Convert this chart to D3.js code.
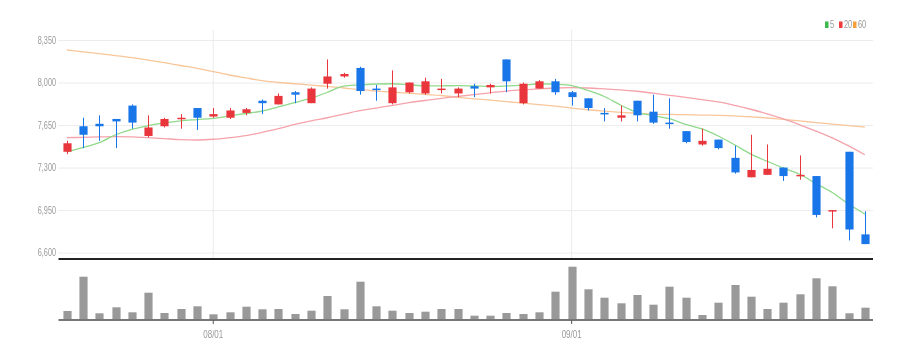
<!DOCTYPE html>
<html><head><meta charset="utf-8">
<script src="https://cdn.jsdelivr.net/npm/d3@7/dist/d3.min.js"></script>
<style>
body{margin:0;background:#fff;}
svg{display:block;font-family:"Liberation Sans",Arial,sans-serif;}
</style></head>
<body><svg id="c" width="910" height="360"></svg>
<script>
const dates = ["2022-07-19","2022-07-20","2022-07-21","2022-07-22","2022-07-25","2022-07-26","2022-07-27","2022-07-28","2022-07-29",
"2022-08-01","2022-08-02","2022-08-03","2022-08-04","2022-08-05","2022-08-08","2022-08-09","2022-08-10","2022-08-11","2022-08-12",
"2022-08-16","2022-08-17","2022-08-18","2022-08-19","2022-08-22","2022-08-23","2022-08-24","2022-08-25","2022-08-26","2022-08-29","2022-08-30","2022-08-31",
"2022-09-01","2022-09-02","2022-09-05","2022-09-06","2022-09-07","2022-09-08","2022-09-13","2022-09-14","2022-09-15","2022-09-16",
"2022-09-19","2022-09-20","2022-09-21","2022-09-22","2022-09-23","2022-09-26","2022-09-27","2022-09-28","2022-09-29"];
const open  = [7430,7640,7660,7700,7810,7560,7640,7700,7790,7720,7710,7750,7850,7820,7920,7830,7990,8050,8120,7950,7830,7920,7910,7940,7910,7970,7960,8190,7830,7950,8010,7920,7870,7750,7710,7850,7760,7670,7600,7490,7530,7380,7220,7240,7300,7230,7230,6940,7430,6750];
const high  = [7520,7710,7730,7700,7820,7730,7710,7740,7790,7790,7790,7790,7860,7910,7930,7960,8190,8080,8130,7980,8100,8000,8040,8030,7960,7990,7990,8190,8000,8020,8030,7930,7870,7790,7810,7850,7900,7870,7600,7620,7530,7480,7570,7490,7300,7400,7230,6950,7430,6940];
const low   = [7410,7460,7520,7460,7620,7550,7630,7620,7610,7710,7700,7730,7740,7820,7830,7830,7950,8040,7900,7850,7820,7910,7900,7910,7880,7880,7910,7920,7820,7950,7900,7810,7770,7680,7680,7680,7660,7620,7500,7480,7450,7250,7220,7240,7190,7200,6890,6800,6700,6670];
const close = [7500,7570,7640,7680,7670,7630,7700,7710,7710,7740,7770,7780,7830,7890,7900,7950,8050,8070,7930,7940,7960,8000,8010,7950,7950,7950,7980,8010,7990,8010,7920,7880,7790,7740,7730,7730,7670,7660,7510,7520,7460,7260,7280,7290,7230,7240,6910,6950,6790,6670];
const volume = [90000,433000,67000,127000,77000,273000,70000,110000,137000,57000,77000,133000,107000,110000,60000,93000,240000,107000,383000,137000,93000,70000,83000,110000,110000,43000,43000,70000,60000,77000,283000,533000,307000,223000,167000,250000,153000,333000,223000,50000,173000,350000,233000,110000,173000,257000,417000,337000,67000,123000];
const ma5  = [7430,7465,7505,7570,7615,7645,7668,7685,7695,7705,7725,7745,7765,7800,7834,7871,7918,7970,7980,7988,7990,7982,7972,7973,7974,7972,7968,7972,7978,7990,7986,7975,7935,7885,7815,7755,7728,7702,7655,7618,7560,7488,7410,7352,7296,7245,7168,7095,7000,6918];
const ma20 = [7546,7549,7552,7555,7553,7546,7538,7530,7527,7533,7546,7562,7590,7620,7655,7685,7710,7740,7768,7790,7812,7835,7852,7870,7885,7900,7915,7930,7940,7948,7955,7958,7955,7948,7940,7928,7912,7895,7878,7860,7840,7812,7780,7742,7700,7652,7600,7545,7478,7405];
const ma60 = [8268,8253,8238,8222,8205,8185,8163,8140,8117,8090,8062,8038,8015,8000,7990,7978,7968,7955,7942,7930,7922,7912,7902,7893,7878,7866,7855,7843,7830,7818,7805,7790,7776,7765,7755,7747,7740,7737,7735,7732,7730,7726,7718,7708,7696,7684,7670,7658,7645,7632];
const priceTicks = [6600,6950,7300,7650,8000,8350];
const tickDates = ["2022-08-01","2022-09-01"];
const tickLabels = ["08/01","09/01"];
const legendNames = ["5","20","60"];

const svg = d3.select("#c");
const L = 58.5, R = 873;
const x = d3.scaleBand().domain(dates).range([L, R]).paddingInner(0.5).paddingOuter(0.25);
const y = d3.scaleLinear().domain([6600, 8350]).range([252.6, 40]);
const yv = d3.scaleLinear().domain([0, 540000]).range([320, 266]);
const cx = d => x(d) + x.bandwidth() / 2;

const RED = "#e8363c", BLUE = "#1976e8", TXT = "#999";
const SY = 0.73, SX = 0.8, SL = 0.74;

// grayscale filter to neutralise coloured text fringes
const flt = svg.append("defs").append("filter").attr("id", "gray")
  .attr("x", "-20%").attr("y", "-40%").attr("width", "140%").attr("height", "180%");
flt.append("feColorMatrix").attr("type", "saturate").attr("values", 0);

// horizontal grid + y labels
const ya = svg.append("g").attr("transform", `translate(${L},0)`)
  .call(d3.axisLeft(y).tickValues(priceTicks).tickSize(-(R - L)).tickPadding(2.5).tickFormat(d3.format(",")));
ya.select(".domain").remove();
ya.selectAll(".tick line").attr("stroke", "#ececec");
ya.selectAll(".tick text").attr("fill", TXT).attr("font-size", 10)
  .attr("x", -2.5 / SY).attr("transform", `scale(${SY},1)`).attr("filter", "url(#gray)");

// vertical grid at month starts
svg.append("g").selectAll("line").data(tickDates).join("line")
  .attr("x1", d => cx(d)).attr("x2", d => cx(d)).attr("y1", 30).attr("y2", 259)
  .attr("stroke", "#ececec");

// MA lines
const lineOf = arr => d3.line().x((d, i) => cx(dates[i])).y(d => y(d)).curve(d3.curveMonotoneX)(arr);
svg.append("path").attr("d", lineOf(ma60)).attr("fill", "none").attr("stroke", "#f9c69a").attr("stroke-width", 1.3);
svg.append("path").attr("d", lineOf(ma20)).attr("fill", "none").attr("stroke", "#f5a3ab").attr("stroke-width", 1.3);
svg.append("path").attr("d", lineOf(ma5)).attr("fill", "none").attr("stroke", "#8fd98a").attr("stroke-width", 1.3);

// candles
const cg = svg.append("g").selectAll("g").data(dates).join("g");
const col = (d, i) => close[i] >= open[i] ? RED : BLUE;
cg.append("line")
  .attr("x1", d => Math.round(cx(d)) + 0.5).attr("x2", d => Math.round(cx(d)) + 0.5)
  .attr("y1", (d, i) => y(high[i])).attr("y2", (d, i) => y(low[i]))
  .attr("stroke", col).attr("stroke-width", 1);
cg.append("rect")
  .attr("x", d => Math.round(cx(d)) + 0.5 - x.bandwidth() / 2)
  .attr("width", x.bandwidth())
  .attr("y", (d, i) => y(Math.max(open[i], close[i])))
  .attr("height", (d, i) => Math.max(1.5, Math.abs(y(open[i]) - y(close[i]))))
  .attr("fill", col);

// separator line
svg.append("line").attr("x1", L).attr("x2", R).attr("y1", 259).attr("y2", 259)
  .attr("stroke", "#222").attr("stroke-width", 2);

// volume bars
svg.append("g").selectAll("rect").data(dates).join("rect")
  .attr("x", d => Math.round(cx(d)) + 0.5 - x.bandwidth() / 2)
  .attr("width", x.bandwidth())
  .attr("y", (d, i) => yv(volume[i]))
  .attr("height", (d, i) => 320 - yv(volume[i]))
  .attr("fill", "#999");

// x axis
const xa = svg.append("g").attr("transform", "translate(0,320)")
  .call(d3.axisBottom(x).tickValues(tickDates).tickSize(4).tickPadding(7)
    .tickFormat(d => tickLabels[tickDates.indexOf(d)]));
xa.select(".domain").attr("stroke", "#777").attr("stroke-width", 2).attr("d", `M${L},0H${R}`);
xa.selectAll(".tick line").attr("stroke", "#555");
xa.selectAll(".tick text").attr("fill", TXT).attr("font-size", 10)
  .attr("transform", `scale(${SX},1)`).attr("filter", "url(#gray)");

// legend
const legColors = ["#3dbb4a", "#ee3b3b", "#f5a03a"];
const lg = svg.append("g").attr("transform", "translate(825,0)")
  .selectAll("g").data(legendNames).join("g")
  .attr("transform", (d, i) => `translate(${i * 14},0)`);
lg.append("rect").attr("y", 21.5).attr("width", 3.5).attr("height", 6.5).attr("fill", (d, i) => legColors[i]);
lg.append("text").attr("transform", `translate(5,28) scale(${SL},1)`)
  .attr("font-size", 10).attr("fill", TXT).attr("filter", "url(#gray)").text(d => d);
</script></body></html>
